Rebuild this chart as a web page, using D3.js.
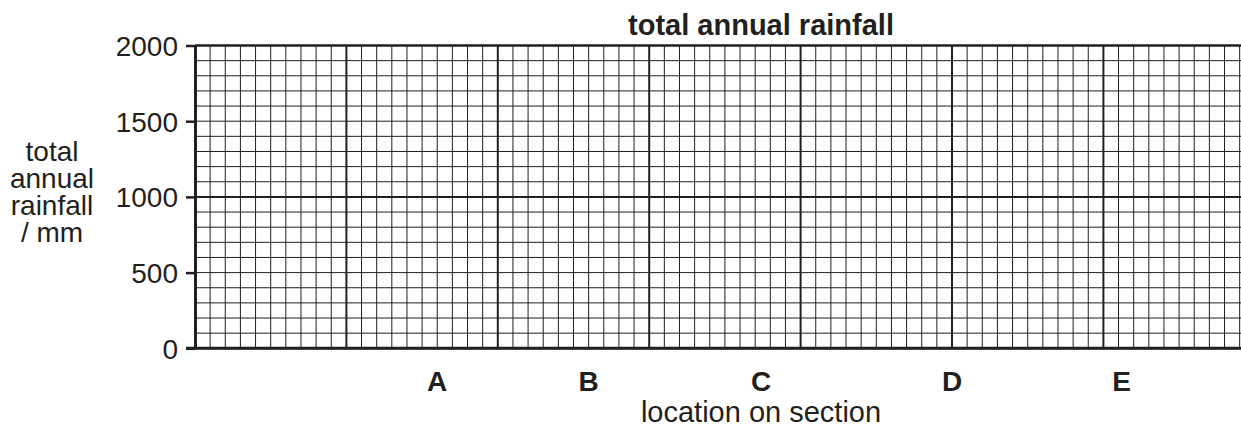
<!DOCTYPE html>
<html>
<head>
<meta charset="utf-8">
<script src="https://d3js.org/d3.v7.min.js"></script>
<style>
  body { margin: 0; background: #fff; }
  svg text { font-family: "Liberation Sans", Arial, sans-serif; fill: #231f20; }
  .axis path, .axis line { stroke: #231f20; }
</style>
</head>
<body>
<div id="chart"></div>
<script>
// data
let categories = ["A", "B", "C", "D", "E"];
let locations = [16, 26, 37.4, 50, 61.2];      // position along the section (grid units)
let rainfallTicks = [0, 500, 1000, 1500, 2000];
let yTitleLines = ["total", "annual", "rainfall", "/ mm"];

// svg size
let width = 1241;
let height = 428;

let margin = { top: 45.5, left: 195, bottom: 80 };
let cell = 15.14;

let svg = d3.select("#chart")
  .append("svg")
  .attr("width", width)
  .attr("height", height);

// scales (x in small-square units, y in mm)
let fnX = d3.scaleLinear()
  .domain([0, 70])
  .range([margin.left, margin.left + 70 * cell]);

let fnY = d3.scaleLinear()
  .domain([0, 2000])
  .range([margin.top + 20 * cell, margin.top]);

// graph paper
let g = svg.append("g");

g.selectAll(".vminor")
  .data(d3.range(0, 70 + 1))
  .enter()
  .append("line")
  .attr("x1", d => fnX(d))
  .attr("x2", d => fnX(d))
  .attr("y1", fnY(2000))
  .attr("y2", fnY(0))
  .attr("stroke", "#231f20")
  .attr("stroke-width", d => d % 10 == 0 ? 2 : 1);

g.selectAll(".hminor")
  .data(d3.range(0, 2001, 100))
  .enter()
  .append("line")
  .attr("x1", fnX(0))
  .attr("x2", fnX(70))
  .attr("y1", d => fnY(d))
  .attr("y2", d => fnY(d))
  .attr("stroke", "#231f20")
  .attr("stroke-width", d => d == 2000 ? 2.5 : d % 1000 == 0 ? 2 : 1);

// y axis
svg.append("g")
  .attr("class", "axis")
  .attr("transform", `translate(${margin.left}, 0)`)
  .call(d3.axisLeft(fnY).tickValues(rainfallTicks).tickFormat(d3.format("d")).tickSize(9).tickPadding(8).tickSizeOuter(0))
  .call(a => a.select(".domain").attr("stroke-width", 3))
  .call(a => a.selectAll(".tick line").attr("stroke-width", 2.5))
  .call(a => a.selectAll("text").attr("font-size", 28).attr("font-family", null).attr("dy", "0.36em"));

// x axis line
svg.append("line")
  .attr("x1", fnX(0) - 9)
  .attr("x2", width)
  .attr("y1", fnY(0))
  .attr("y2", fnY(0))
  .attr("stroke", "#231f20")
  .attr("stroke-width", 3);

// category labels
svg.selectAll(".catlabel")
  .data(categories)
  .enter()
  .append("text")
  .attr("class", "catlabel")
  .attr("x", (d, i) => fnX(locations[i]))
  .attr("y", 391)
  .attr("text-anchor", "middle")
  .attr("font-size", 28)
  .attr("font-weight", "bold")
  .text(d => d);

// titles
svg.append("text")
  .attr("x", 761)
  .attr("y", 35)
  .attr("text-anchor", "middle")
  .attr("font-size", 29)
  .attr("font-weight", "bold")
  .text("total annual rainfall");

svg.append("text")
  .attr("x", 761)
  .attr("y", 422)
  .attr("text-anchor", "middle")
  .attr("font-size", 29)
  .text("location on section");

svg.append("text")
  .attr("text-anchor", "middle")
  .attr("font-size", 28)
  .selectAll("tspan")
  .data(yTitleLines)
  .enter()
  .append("tspan")
  .attr("x", 52)
  .attr("y", (d, i) => 161 + i * 27)
  .text(d => d);
</script>
</body>
</html>
